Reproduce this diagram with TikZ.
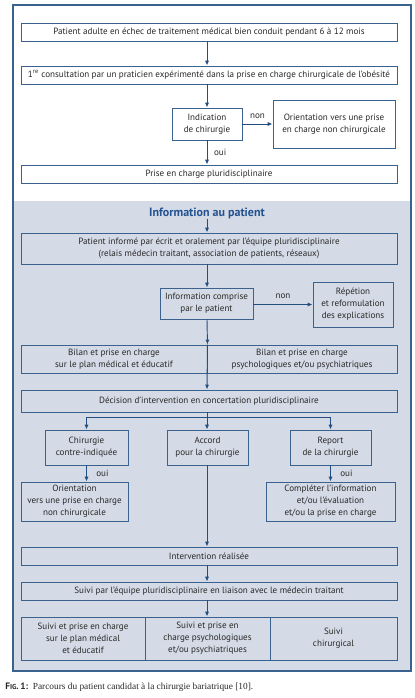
\documentclass[tikz,border=0pt]{standalone}
\usepackage{fontspec}
\setmainfont{PT Sans}
\newfontfamily\capserif{Liberation Serif}[Numbers=OldStyle]
\usetikzlibrary{arrows.meta}
\definecolor{lc}{RGB}{58,98,142}
\definecolor{ac}{RGB}{36,78,128}
\definecolor{gb}{RGB}{212,219,230}
\definecolor{tc}{RGB}{40,40,40}
\definecolor{tb}{RGB}{34,82,145}
\tikzset{
  bx/.style={draw=lc, line width=0.7pt, inner sep=0pt, align=center, text=tc,
    font=\fontsize{6.8}{9}\selectfont},
  arr/.style={draw=ac, line width=0.7pt, -{Latex[length=3.6pt,width=3pt]}},
  ln/.style={draw=ac, line width=0.7pt},
  lbl/.style={text=tc, font=\fontsize{6.8}{9}\selectfont, inner sep=0pt},
}
\begin{document}
\begin{tikzpicture}[x=0.75pt,y=-0.75pt]
\useasboundingbox (0,0) rectangle (414,698);
% backgrounds
\fill[white] (13,5) rectangle (411,201);
\fill[gb] (13,201) rectangle (411,671);
\draw[lc, line width=0.9pt] (13,5) rectangle (411,671);
\coordinate (cx) at (207,0);
% top part
\node[bx, fill=white, minimum width=282pt, minimum height=13.5pt] (b1) at (209,32)
  {Patient adulte en échec de traitement médical bien conduit pendant 6 à 12 mois};
\node[bx, fill=white, minimum width=282pt, minimum height=13.5pt] (b2) at (209,75)
  {1\textsuperscript{re} consultation par un praticien expérimenté dans la prise en charge chirurgicale de l’obésité};
\node[bx, fill=white, minimum width=52.5pt, minimum height=24pt] (ind) at (207,124)
  {Indication\\de chirurgie};
\node[bx, fill=white, minimum width=91.5pt, minimum height=36pt] (ori) at (334,124)
  {Orientation vers une prise\\en charge non chirurgicale};
\node[bx, fill=white, minimum width=282pt, minimum height=13.5pt] (pec) at (209,174)
  {Prise en charge pluridisciplinaire};
\draw[arr] (b1.south -| cx) -- (b2.north -| cx);
\draw[arr] (b2.south -| cx) -- (ind.north -| cx);
\draw[arr] (ind.east) -- node[lbl, above=4pt] {non} (ori.west);
\draw[arr] (ind.south -| cx) -- node[lbl, right=5pt] {oui} (pec.north -| cx);
% information section
\node[text=tb, inner sep=0pt, font=\bfseries\fontsize{9}{11}\selectfont] (tit) at (207,213)
  {Information au patient};
\node[bx, minimum width=282pt, minimum height=23.25pt] (pinf) at (209,248.5)
  {Patient informé par écrit et oralement par l’équipe pluridisciplinaire\\(relais médecin traitant, association de patients, réseaux)};
\node[bx, minimum width=69.75pt, minimum height=23.25pt] (icomp) at (206.5,303.5)
  {Information comprise\\par le patient};
\node[bx, minimum width=60pt, minimum height=33.75pt] (rep) at (353,304.5)
  {Répétion\\et reformulation\\des explications};
\node[bx, minimum width=139.5pt, minimum height=21pt] (bil1) at (114,359)
  {Bilan et prise en charge\\sur le plan médical et éducatif};
\node[bx, minimum width=142.5pt, minimum height=21pt] (bil2) at (302,359)
  {Bilan et prise en charge\\psychologiques et/ou psychiatriques};
\node[bx, minimum width=282pt, minimum height=16.5pt] (dec) at (209,401)
  {Décision d’intervention en concertation pluridisciplinaire};
\node[bx, minimum width=62.25pt, minimum height=26.25pt] (chir) at (86.5,447.5)
  {Chirurgie\\contre-indiquée};
\node[bx, minimum width=60.75pt, minimum height=26.25pt] (acc) at (207.5,447.5)
  {Accord\\pour la chirurgie};
\node[bx, minimum width=60.75pt, minimum height=26.25pt] (rpt) at (330.5,447.5)
  {Report\\de la chirurgie};
\node[bx, minimum width=80.25pt, minimum height=29.25pt] (ori2) at (74.5,501.5)
  {Orientation\\vers une prise en charge\\non chirurgicale};
\node[bx, minimum width=96.75pt, minimum height=29.25pt] (comp) at (330.5,501.5)
  {Compléter l’information\\et/ou l’évaluation\\et/ou la prise en charge};
\node[bx, minimum width=282pt, minimum height=13.5pt] (interv) at (209,556)
  {Intervention réalisée};
\node[bx, minimum width=282pt, minimum height=13.5pt] (suivi) at (209,591)
  {Suivi par l’équipe pluridisciplinaire en liaison avec le médecin traitant};
\node[bx, minimum width=93pt, minimum height=32.25pt] (s1) at (83,638.5)
  {Suivi et prise en charge\\sur le plan médical\\et éducatif};
\node[bx, minimum width=93.75pt, minimum height=32.25pt] (s2) at (207.5,638.5)
  {Suivi et prise en\\charge psychologiques\\et/ou psychiatriques};
\node[bx, minimum width=95.25pt, minimum height=32.25pt] (s3) at (333.5,638.5)
  {Suivi\\chirurgical};
% connectors
\draw[arr] (tit.south -| cx) -- (pinf.north -| cx);
\draw[arr] (pinf.south -| cx) -- (icomp.north -| cx);
\draw[arr] (icomp.east |- rep.west) -- node[lbl, above=4pt] {non} (rep.west);
\draw[arr] (icomp.south -| cx) -- (bil1.north east);
\draw[arr] (bil1.north east) -- (dec.north -| cx);
\coordinate (br) at (0,417);
\draw[ln] (chir.north |- br) -- (rpt.north |- br);
\draw[arr] (dec.south -| cx) -- (acc.north -| cx);
\draw[arr] (chir.north |- br) -- (chir.north);
\draw[arr] (rpt.north |- br) -- (rpt.north);
\draw[arr] (chir.south) -- node[lbl, right=7pt] {oui} (chir.south |- ori2.north);
\draw[arr] (rpt.south) -- node[lbl, right=7pt] {oui} (rpt.south |- comp.north);
\draw[arr] (acc.south -| cx) -- (interv.north -| cx);
\draw[arr] (interv.south -| cx) -- (suivi.north -| cx);
\draw[arr] (suivi.south -| cx) -- (s2.north -| cx);
% caption
\node[anchor=west, inner sep=0pt, text=tc] (cap) at (5,687)
  {{\bfseries\fontsize{7}{8}\selectfont F{\fontsize{5.4}{6}\selectfont IG}.\,1:} {\capserif\fontsize{7}{8}\selectfont Parcours du patient candidat à la chirurgie bariatrique [10].}};
\end{tikzpicture}
\end{document}
